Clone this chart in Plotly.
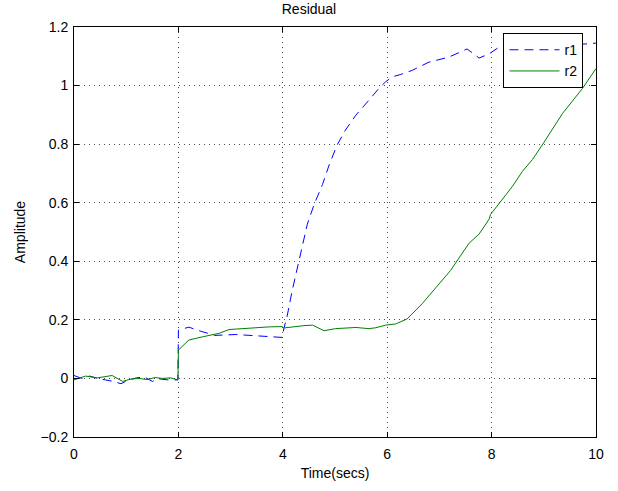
import plotly.graph_objects as go

# ---- data ----
t_r1 = [0, 0.15, 0.3, 0.45, 0.6, 0.75, 0.9, 1.05, 1.2, 1.35, 1.5, 1.65, 1.8, 1.99,
        2.0, 2.2, 2.45, 2.7, 3.1, 3.5, 3.8, 3.99,
        4.02, 4.08, 4.18, 4.31, 4.47, 4.6, 4.76, 4.89, 5.04, 5.2, 5.4, 5.62, 5.84,
        5.97, 6.1, 6.26, 6.48, 6.8, 7.18, 7.53, 7.76, 7.95, 8.15, 8.5, 9.0, 9.5, 10]
r1 = [0.01, 0.0, 0.008, 0.0, -0.005, -0.01, -0.018, -0.005, 0.002, 0.005, -0.01, -0.002, -0.005, -0.005,
      0.165, 0.175, 0.16, 0.147, 0.15, 0.146, 0.143, 0.14,
      0.17, 0.21, 0.30, 0.40, 0.527, 0.594, 0.662, 0.73, 0.797, 0.848, 0.899, 0.944, 0.99,
      1.013, 1.03, 1.038, 1.052, 1.08, 1.097, 1.125, 1.094, 1.108, 1.132, 1.133, 1.136, 1.138, 1.145]

t_r2 = [0, 0.22, 0.45, 0.6, 0.73, 0.93, 1.1, 1.25, 1.4, 1.55, 1.7, 1.85, 1.99,
        2.0, 2.2, 2.46, 2.78, 2.97, 3.42, 3.74, 3.99, 4.01, 4.39, 4.57, 4.79, 5.01,
        5.4, 5.65, 5.78, 5.97, 6.16, 6.38, 6.67, 6.96, 7.21, 7.57, 7.76, 7.95, 7.98,
        8.4, 8.59, 8.78, 8.97, 9.36, 9.74, 10]
r2 = [-0.005, 0.008, 0.002, 0.005, 0.01, -0.01, -0.002, 0.0, -0.004, 0.003, 0.0, 0.002, -0.005,
      0.097, 0.131, 0.142, 0.154, 0.167, 0.173, 0.176, 0.177, 0.172, 0.18, 0.182, 0.163, 0.17,
      0.174, 0.17, 0.173, 0.182, 0.186, 0.203, 0.255, 0.315, 0.368, 0.462, 0.493, 0.543, 0.56,
      0.656, 0.707, 0.747, 0.797, 0.905, 0.99, 1.058]

x_ticks = [0, 2, 4, 6, 8, 10]
y_ticks = [-0.2, 0, 0.2, 0.4, 0.6, 0.8, 1, 1.2]
y_tick_text = ["\u22120.2", "0", "0.2", "0.4", "0.6", "0.8", "1", "1.2"]

FONT = "Liberation Sans, Arial, Helvetica, sans-serif"

fig = go.Figure()
fig.add_trace(go.Scatter(x=t_r1, y=r1, mode="lines", name="r1",
                         line=dict(color="#0000ff", width=1, dash="9px,6px")))
fig.add_trace(go.Scatter(x=t_r2, y=r2, mode="lines", name="r2",
                         line=dict(color="#008000", width=1)))

axis_common = dict(
    showline=True, linecolor="black", linewidth=1, mirror="ticks",
    ticks="inside", ticklen=5, tickcolor="black",
    showgrid=True, gridcolor="rgba(0,0,0,0.7)", griddash="1px,4px", gridwidth=1,
    zeroline=False, tickfont=dict(family=FONT, size=14, color="black"),
)

fig.update_layout(
    width=618, height=491,
    margin=dict(l=74, r=22, t=27, b=48),
    paper_bgcolor="white", plot_bgcolor="white",
    font=dict(family=FONT, size=14, color="black"),
    title=dict(text="Residual", x=0.5, xanchor="center", y=1 - 9.5 / 491, yanchor="middle",
               font=dict(family=FONT, size=14, color="black")),
    xaxis=dict(range=[0, 10], tickvals=x_ticks,
               title=dict(text="Time(secs)", standoff=7, font=dict(size=14)),
               ticklabelstandoff=4,
               **axis_common),
    yaxis=dict(range=[-0.2, 1.2], tickvals=y_ticks, ticktext=y_tick_text,
               title=dict(text="Amplitude", standoff=11, font=dict(size=14)),
               ticklabelstandoff=2,
               **axis_common),
    legend=dict(x=0.976, xanchor="right", y=0.985, yanchor="top",
                bgcolor="white", bordercolor="black", borderwidth=1,
                font=dict(family=FONT, size=14, color="black"),
                itemwidth=50, tracegroupgap=0),
    showlegend=True,
)

# remove the default 8px page margin so the figure fills the window exactly
fig.write_html("out.html", config={"displayModeBar": False},
               post_script="document.body.style.margin='0';")
